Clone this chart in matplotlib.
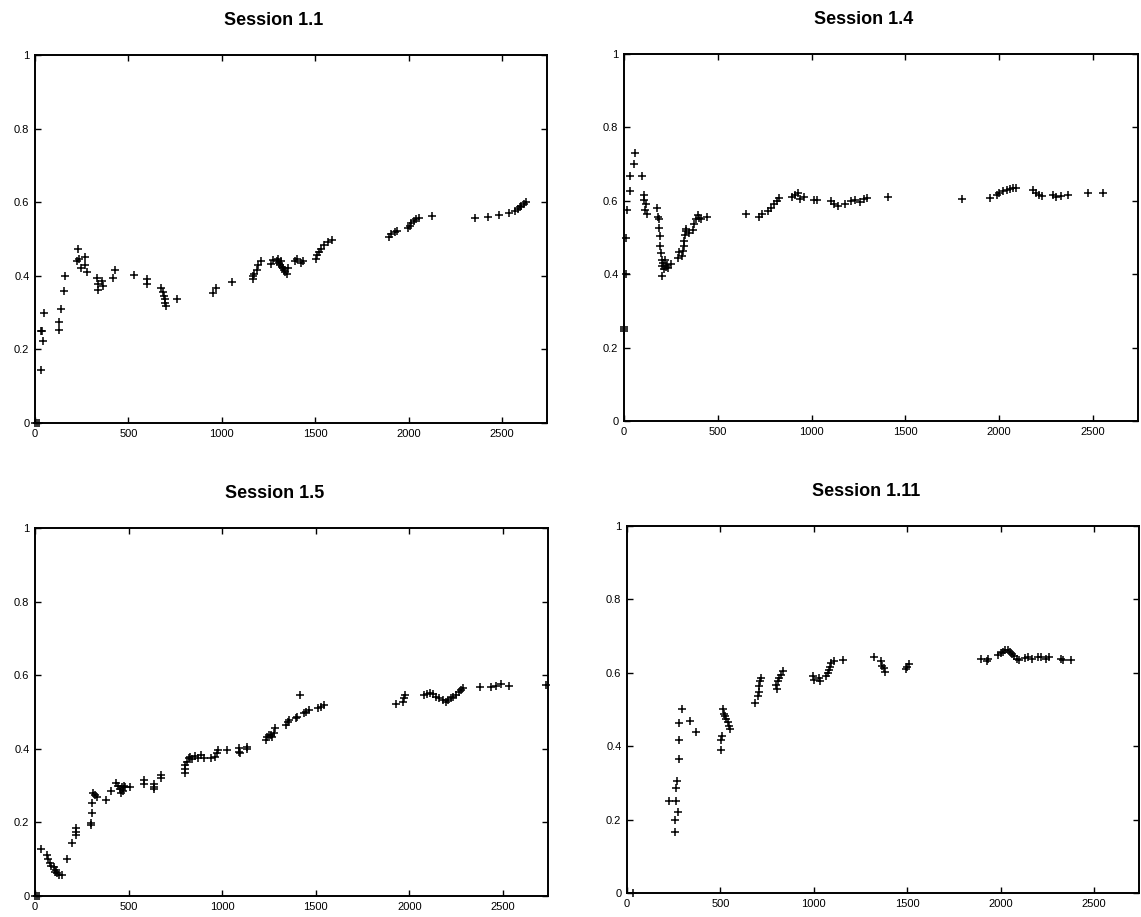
import matplotlib
matplotlib.use("Agg")
import matplotlib.pyplot as plt
from matplotlib.ticker import FormatStrFormatter

# Session 1.1
s11_x = [0, 10, 20, 30, 30, 36, 45, 48, 127, 128, 139, 157, 162, 223, 230, 237, 244, 266, 269, 276,
         330, 335, 339, 360, 365, 415, 428, 531, 597, 597, 672, 686, 690, 694, 698, 700, 761,
         954, 966, 1055, 1164, 1168, 1174, 1188, 1196, 1210, 1264, 1273,
         1296, 1300, 1305, 1310, 1315, 1320, 1325, 1330, 1340, 1346, 1353,
         1390, 1403, 1426, 1435, 1503, 1510, 1520, 1533, 1545, 1568, 1587,
         1895, 1904, 1925, 1937, 1996, 2005, 2014, 2027, 2041, 2055, 2125,
         2353, 2426, 2481, 2536, 2567, 2585, 2594, 2602, 2615, 2629]
s11_y = [0, 0, 0, 0.144, 0.25, 0.25, 0.224, 0.30, 0.274, 0.252, 0.31, 0.358, 0.40, 0.439, 0.473, 0.445, 0.422, 0.452, 0.429, 0.41,
         0.393, 0.377, 0.362, 0.385, 0.372, 0.394, 0.416, 0.402, 0.391, 0.377, 0.366, 0.356, 0.345, 0.337, 0.326, 0.318, 0.336,
         0.352, 0.368, 0.384, 0.391, 0.40, 0.405, 0.416, 0.429, 0.441, 0.432, 0.443,
         0.44, 0.447, 0.435, 0.43, 0.44, 0.425, 0.42, 0.415, 0.41, 0.406, 0.42,
         0.44, 0.447, 0.434, 0.44, 0.445, 0.456, 0.465, 0.473, 0.484, 0.491, 0.496,
         0.505, 0.514, 0.518, 0.523, 0.529, 0.536, 0.543, 0.549, 0.555, 0.558, 0.562,
         0.557, 0.561, 0.566, 0.571, 0.575, 0.582, 0.587, 0.591, 0.596, 0.600]

# Session 1.4
s14_x = [0, 0, 0, 13, 13, 18, 30, 34, 52, 57, 98, 104, 108, 114, 118, 123,
         178, 182, 185, 188, 191, 194, 197, 200, 203, 205, 210, 215, 220, 225, 230, 232, 253,
         288, 292, 307, 312, 318, 322, 327, 330, 333, 346, 369, 375, 382, 392, 398, 410, 440,
         651, 722, 735, 770, 785, 800, 815, 827, 895, 910, 925, 940, 958,
         1011, 1029, 1105, 1120, 1140, 1180, 1210, 1230, 1260, 1280, 1298, 1409,
         1804, 1952, 1988, 2000, 2020, 2040, 2060, 2075, 2089, 2179, 2195, 2210, 2227,
         2286, 2305, 2330, 2369, 2476, 2553]
s14_y = [0.245, 0.25, 0.255, 0.40, 0.50, 0.574, 0.627, 0.667, 0.701, 0.729, 0.667, 0.617, 0.602, 0.575, 0.59, 0.565,
         0.581, 0.556, 0.551, 0.526, 0.504, 0.478, 0.458, 0.44, 0.422, 0.394, 0.43, 0.415, 0.44, 0.42, 0.425, 0.417, 0.429,
         0.445, 0.46, 0.449, 0.464, 0.476, 0.49, 0.508, 0.524, 0.517, 0.513, 0.52, 0.536, 0.55, 0.56, 0.552, 0.55, 0.556,
         0.565, 0.556, 0.563, 0.572, 0.581, 0.59, 0.599, 0.608, 0.61, 0.615, 0.62, 0.605, 0.61,
         0.602, 0.602, 0.60, 0.59, 0.585, 0.592, 0.60, 0.603, 0.597, 0.604, 0.608, 0.611,
         0.604, 0.608, 0.615, 0.62, 0.627, 0.629, 0.633, 0.636, 0.636, 0.629, 0.62, 0.617, 0.613,
         0.615, 0.611, 0.613, 0.617, 0.62, 0.622]

# Session 1.5
s15_x = [0, 10, 20, 30, 62, 70, 78, 88, 100, 105, 110, 118, 130, 143, 173, 200, 221, 221, 221,
         298, 298, 302, 306, 312, 320, 330, 380, 407, 434, 445, 452, 458, 465, 470, 476, 482, 509,
         584, 584, 637, 637, 637, 671, 671, 800, 800, 800, 810, 820, 830, 840, 855, 870, 885, 900,
         940, 960, 970, 980, 1023, 1087, 1092, 1097, 1134, 1134, 1232, 1240, 1250, 1262, 1268, 1274, 1280,
         1339, 1349, 1359, 1393, 1402, 1416, 1437, 1450, 1464, 1509, 1525, 1544,
         1928, 1964, 1970, 1976, 2080, 2095, 2110, 2125, 2140, 2160, 2178,
         2196, 2208, 2220, 2235, 2250, 2262, 2274, 2285, 2378, 2437, 2463, 2490, 2532, 2730]
s15_y = [0, 0, 0, 0.127, 0.111, 0.10, 0.091, 0.082, 0.078, 0.065, 0.071, 0.062, 0.058, 0.056, 0.10, 0.143, 0.184, 0.175, 0.166,
         0.199, 0.193, 0.225, 0.252, 0.279, 0.275, 0.27, 0.261, 0.285, 0.307, 0.30, 0.29, 0.28, 0.295, 0.285, 0.30, 0.295, 0.295,
         0.315, 0.304, 0.304, 0.297, 0.291, 0.329, 0.32, 0.335, 0.345, 0.356, 0.365, 0.374, 0.379, 0.372, 0.38, 0.375, 0.383, 0.376,
         0.374, 0.379, 0.388, 0.397, 0.397, 0.401, 0.392, 0.388, 0.406, 0.40, 0.424, 0.433, 0.437, 0.437, 0.433, 0.442, 0.456,
         0.465, 0.474, 0.478, 0.483, 0.487, 0.546, 0.496, 0.50, 0.505, 0.51, 0.514, 0.519,
         0.522, 0.528, 0.537, 0.546, 0.546, 0.548, 0.551, 0.549, 0.542, 0.537, 0.533,
         0.528, 0.533, 0.537, 0.542, 0.546, 0.555, 0.56, 0.564, 0.569, 0.569, 0.571, 0.575, 0.57, 0.573]

# Session 1.11
s111_x = [30, 225, 258, 258, 262, 262, 267, 271, 276, 280, 280, 294, 338, 368,
          503, 503, 507, 514, 520, 526, 532, 538, 544, 551,
          684, 699, 704, 708, 712, 715, 800, 803, 808, 815, 825, 835,
          995, 1000, 1025, 1031, 1067, 1073, 1079, 1085, 1090, 1106, 1155, 1321,
          1360, 1365, 1378, 1383, 1493, 1500, 1507, 1893, 1925, 1931,
          1987, 2000, 2012, 2025, 2038, 2050, 2060, 2072, 2085, 2098,
          2130, 2148, 2165, 2201, 2213, 2242, 2258, 2320, 2332, 2376]
s111_y = [0, 0.252, 0.20, 0.166, 0.252, 0.286, 0.304, 0.222, 0.463, 0.365, 0.418, 0.502, 0.468, 0.44,
          0.39, 0.418, 0.427, 0.502, 0.488, 0.483, 0.474, 0.465, 0.456, 0.447,
          0.519, 0.536, 0.549, 0.563, 0.577, 0.586, 0.568, 0.556, 0.577, 0.586, 0.595, 0.604,
          0.59, 0.58, 0.585, 0.577, 0.59, 0.599, 0.608, 0.617, 0.627, 0.631, 0.636, 0.643,
          0.633, 0.619, 0.613, 0.602, 0.61, 0.617, 0.625, 0.638, 0.633, 0.638,
          0.649, 0.654, 0.658, 0.661, 0.661, 0.658, 0.652, 0.645, 0.638, 0.634,
          0.64, 0.642, 0.638, 0.643, 0.642, 0.638, 0.642, 0.638, 0.636, 0.634]

titles = ["Session 1.1", "Session 1.4", "Session 1.5", "Session 1.11"]
xs = [s11_x, s14_x, s15_x, s111_x]
ys = [s11_y, s14_y, s15_y, s111_y]

W, H = 1141, 917
# axes boxes in pixels: left, top, right, bottom
boxes = [(35, 55, 547, 423), (624, 54, 1138, 421),
         (35, 528, 548, 896), (627, 526, 1139, 893)]

fig = plt.figure(figsize=(W / 100, H / 100), dpi=100)
plt.rcParams['font.family'] = ['Liberation Sans', 'DejaVu Sans']

for i in range(4):
    l, t, r, b = boxes[i]
    ax = fig.add_axes([l / W, 1 - b / H, (r - l) / W, (b - t) / H])
    ax.plot(xs[i], ys[i], linestyle='none', marker='+', color='black',
            markersize=5.5, markeredgewidth=1.1, clip_on=False)
    ax.set_xlim(0, 2740)
    ax.set_ylim(0, 1)
    ax.set_xticks([0, 500, 1000, 1500, 2000, 2500])
    ax.set_yticks([0, 0.2, 0.4, 0.6, 0.8, 1])
    ax.yaxis.set_major_formatter(FormatStrFormatter('%g'))
    ax.tick_params(direction='in', length=4, width=1, labelsize=8,
                   top=True, right=True, pad=4)
    for sp in ax.spines.values():
        sp.set_linewidth(1.4)
    ax.text(0.467, 1.093, titles[i], transform=ax.transAxes, ha='center', va='center',
            fontsize=13, fontweight='bold')

fig.savefig('out.png', dpi=100)
